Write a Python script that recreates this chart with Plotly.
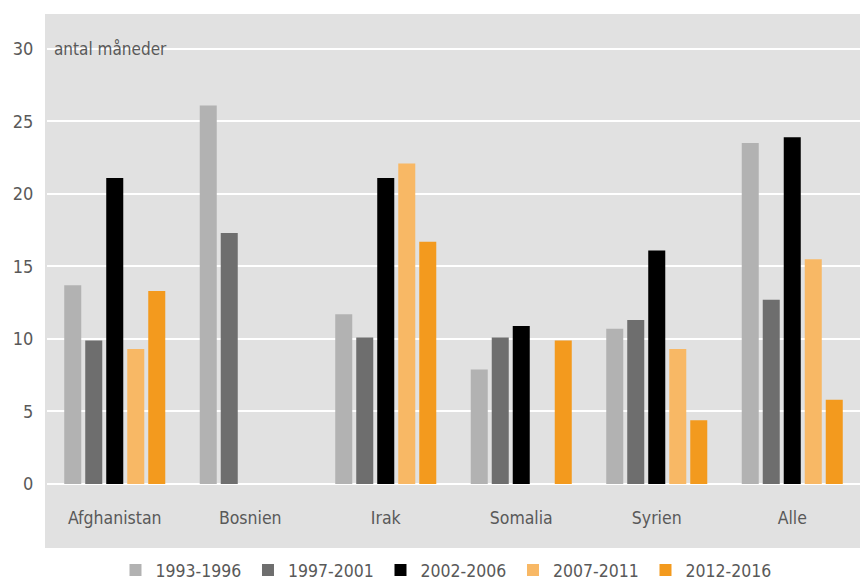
import plotly.graph_objects as go

categories = ["Afghanistan", "Bosnien", "Irak", "Somalia", "Syrien", "Alle"]
series_names = ["1993-1996", "1997-2001", "2002-2006", "2007-2011", "2012-2016"]
v_1993_1996 = [13.7, 26.1, 11.7, 7.9, 10.7, 23.5]
v_1997_2001 = [9.9, 17.3, 10.1, 10.1, 11.3, 12.7]
v_2002_2006 = [21.1, None, 21.1, 10.9, 16.1, 23.9]
v_2007_2011 = [9.3, None, 22.1, None, 9.3, 15.5]
v_2012_2016 = [13.3, None, 16.7, 9.9, 4.4, 5.8]
colors = ["#b2b2b2", "#6e6e6e", "#000000", "#f8b865", "#f39a1e"]
y_ticks = [0, 5, 10, 15, 20, 25, 30]
unit_label = "antal måneder"

FONT = "DejaVu Sans Condensed, Liberation Sans Narrow, Arial Narrow, sans-serif"
TXT = "#595959"
PANEL = "#e1e1e1"

fig = go.Figure()
for name, vals, col in zip(series_names,
                           [v_1993_1996, v_1997_2001, v_2002_2006, v_2007_2011, v_2012_2016],
                           colors):
    fig.add_trace(go.Bar(x=categories, y=vals, name=name, marker=dict(color=col, line=dict(width=0))))

fig.add_shape(type="rect", xref="paper", yref="paper", x0=-2 / 813, x1=1.0,
              y0=-(548 - 484) / 470, y1=1.0, fillcolor=PANEL, line=dict(width=0), layer="below")

fig.add_annotation(text=unit_label, xref="paper", yref="y", x=(52 - 47) / 813, y=30,
                   xanchor="left", yanchor="middle", showarrow=False,
                   font=dict(family=FONT, size=17, color=TXT))

fig.update_layout(
    width=860, height=582,
    margin=dict(l=47, r=0, t=14, b=98, autoexpand=False),
    paper_bgcolor="white", plot_bgcolor=PANEL,
    barmode="group", bargap=0.225, bargroupgap=0.19,
    font=dict(family=FONT, size=18, color=TXT),
    showlegend=True,
    legend=dict(orientation="h", x=0.492, xanchor="center", y=-(552 - 484) / 470, yanchor="top",
                font=dict(family=FONT, size=17.5, color=TXT), bgcolor="rgba(0,0,0,0)",
                itemwidth=30, entrywidth=87.5, entrywidthmode="pixels", traceorder="normal"),
    xaxis=dict(type="category", showgrid=False, ticks="outside", ticklen=18,
               tickcolor="rgba(0,0,0,0)", tickfont=dict(family=FONT, size=17.5, color=TXT),
               showline=False, zeroline=False),
    yaxis=dict(range=[0, 32.4], tickvals=y_ticks, showgrid=True, gridcolor="white", gridwidth=2,
               zeroline=True, zerolinecolor="white", zerolinewidth=2,
               ticks="outside", ticklen=9, tickcolor="rgba(0,0,0,0)",
               tickfont=dict(family=FONT, size=18, color=TXT), showline=False),
)

fig.write_html("out.html", config={"displayModeBar": False},
               post_script="document.body.style.margin='0';document.body.style.overflow='hidden';")
